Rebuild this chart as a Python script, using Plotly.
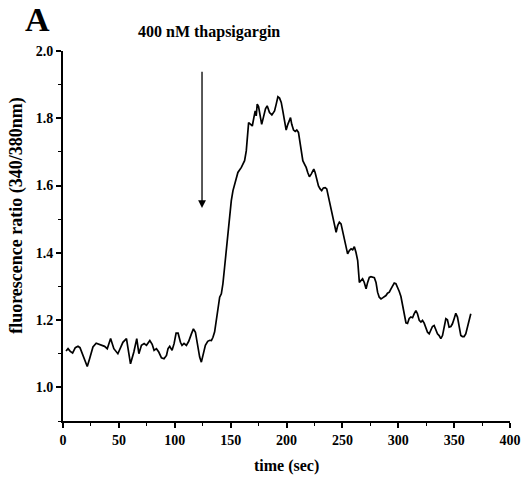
import plotly.graph_objects as go

time_sec = [2.7, 4.5, 6.5, 8.6, 11.0, 13.4, 15.2, 17.9, 21.7, 23.8, 26.8, 29.7, 32.8, 37.2, 39.6,
            42.6, 45.5, 49.1, 53.6, 56.8, 60.4, 63.4, 66.0, 67.9, 70.2, 72.6, 74.7, 77.7, 79.8,
            81.5, 83.6, 85.7, 88.1, 90.4, 92.6, 94.0, 95.5, 97.6, 99.4, 101.2, 103.0, 105.1,
            106.5, 108.3, 110.4, 112.5, 114.9, 116.7, 118.5, 120.3, 122.3, 123.8, 125.3, 127.4,
            129.5, 131.3, 132.8, 134.2, 135.7, 137.2, 138.7, 140.2, 141.7, 143.1, 144.6, 146.2,
            147.6, 149.1, 150.6, 152.1, 153.6, 155.1, 156.5, 159.6, 161.0, 162.5, 164.0, 164.9,
            166.1, 167.9, 169.4, 170.8, 172.0, 172.9, 173.8, 175.0, 176.8, 177.8, 179.5, 181.2,
            182.7, 184.8, 186.9, 189.3, 190.8, 192.3, 193.8, 195.3, 196.7, 198.2, 199.7, 201.2,
            202.7, 203.6, 204.7, 206.3, 207.8, 209.2, 210.7, 212.5, 214.6, 216.1, 217.6, 219.0,
            220.5, 222.1, 224.4, 225.6, 227.1, 228.6, 230.1, 231.5, 233.0, 234.6, 236.0, 237.5,
            239.3, 240.8, 242.5, 244.4, 245.8, 247.3, 248.8, 250.3, 251.8, 253.3, 254.7, 256.3,
            257.8, 259.2, 260.7, 262.2, 263.7, 265.2, 266.7, 268.1, 269.6, 271.2, 272.6, 274.1,
            275.6, 277.1, 278.6, 280.1, 281.5, 283.0, 284.6, 286.0, 287.5, 289.0, 290.4, 292.0,
            293.5, 294.9, 296.4, 297.9, 299.4, 300.9, 302.4, 303.8, 305.4, 306.9, 308.3, 309.8,
            311.3, 312.8, 314.3, 315.8, 317.2, 318.8, 320.3, 321.7, 323.2, 324.7, 326.2, 327.7,
            329.2, 330.6, 332.1, 333.7, 335.1, 336.6, 338.1, 339.6, 341.1, 342.6, 344.0, 345.5,
            347.1, 348.5, 350.0, 351.5, 353.0, 354.5, 356.0, 357.4, 358.9, 360.4, 361.8, 363.3,
            364.9]

ratio = [1.108, 1.115, 1.107, 1.102, 1.118, 1.122, 1.118, 1.095, 1.062, 1.085, 1.120, 1.131, 1.128,
         1.122, 1.115, 1.145, 1.115, 1.100, 1.134, 1.145, 1.070, 1.105, 1.145, 1.100, 1.125, 1.130,
         1.125, 1.139, 1.128, 1.110, 1.115, 1.105, 1.088, 1.085, 1.095, 1.115, 1.122, 1.110, 1.130,
         1.161, 1.161, 1.134, 1.125, 1.131, 1.125, 1.137, 1.159, 1.174, 1.164, 1.128, 1.090, 1.075,
         1.095, 1.125, 1.137, 1.140, 1.139, 1.149, 1.165, 1.199, 1.238, 1.268, 1.278, 1.308, 1.357,
         1.407, 1.466, 1.515, 1.555, 1.585, 1.604, 1.624, 1.639, 1.654, 1.662, 1.674, 1.703, 1.753,
         1.787, 1.782, 1.777, 1.802, 1.822, 1.807, 1.842, 1.835, 1.802, 1.782, 1.805, 1.828, 1.837,
         1.817, 1.810, 1.822, 1.842, 1.864, 1.860, 1.847, 1.822, 1.792, 1.765, 1.782, 1.797, 1.802,
         1.782, 1.765, 1.761, 1.765, 1.758, 1.713, 1.674, 1.664, 1.654, 1.639, 1.626, 1.634, 1.649,
         1.639, 1.614, 1.599, 1.590, 1.585, 1.593, 1.594, 1.590, 1.565, 1.535, 1.510, 1.486, 1.461,
         1.481, 1.491, 1.486, 1.461, 1.441, 1.412, 1.397, 1.407, 1.412, 1.409, 1.418, 1.401, 1.377,
         1.312, 1.318, 1.323, 1.312, 1.293, 1.312, 1.327, 1.329, 1.327, 1.326, 1.312, 1.283, 1.268,
         1.263, 1.266, 1.270, 1.273, 1.280, 1.283, 1.293, 1.303, 1.310, 1.308, 1.298, 1.285, 1.270,
         1.248, 1.219, 1.192, 1.190, 1.205, 1.209, 1.207, 1.219, 1.228, 1.219, 1.199, 1.194, 1.199,
         1.191, 1.179, 1.164, 1.159, 1.169, 1.181, 1.184, 1.169, 1.159, 1.154, 1.145, 1.154, 1.179,
         1.204, 1.201, 1.179, 1.181, 1.189, 1.204, 1.220, 1.209, 1.184, 1.154, 1.151, 1.151, 1.159,
         1.179, 1.199, 1.219]

x_ticks = [0, 50, 100, 150, 200, 250, 300, 350, 400]
y_ticks = [1.0, 1.2, 1.4, 1.6, 1.8, 2.0]
y_tick_labels = ["1.0", "1.2", "1.4", "1.6", "1.8", "2.0"]

arrow_time = 124.4
arrow_top = 1.943
arrow_bottom = 1.533

SERIF = "Liberation Serif, Times New Roman, serif"

fig = go.Figure()
fig.add_trace(go.Scatter(x=time_sec, y=ratio, mode="lines",
                         line=dict(color="black", width=1.7), showlegend=False,
                         hoverinfo="skip"))

fig.add_annotation(x=arrow_time, y=arrow_bottom, ax=arrow_time, ay=arrow_top,
                   xref="x", yref="y", axref="x", ayref="y",
                   showarrow=True, arrowhead=2, arrowsize=1.2, arrowwidth=1.3,
                   arrowcolor="black", text="")

fig.add_annotation(text="400 nM thapsigargin", x=0.327, y=1.051, xref="paper", yref="paper",
                   showarrow=False, xanchor="center", yanchor="middle",
                   font=dict(family=SERIF, size=16, color="black", weight="bold"))
fig.add_annotation(text="A", x=-0.056, y=1.084, xref="paper", yref="paper",
                   showarrow=False, xanchor="center", yanchor="middle",
                   font=dict(family=SERIF, size=34, color="black", weight="bold"))
fig.add_annotation(text="time (sec)", x=0.501, y=-0.122, xref="paper", yref="paper",
                   showarrow=False, xanchor="center", yanchor="middle",
                   font=dict(family=SERIF, size=16, color="black", weight="bold"))
fig.add_annotation(text="fluorescence ratio (340/380nm)", x=-0.103, y=0.557,
                   xref="paper", yref="paper", textangle=-90,
                   showarrow=False, xanchor="center", yanchor="middle",
                   font=dict(family=SERIF, size=18, color="black", weight="bold"))

fig.update_layout(
    width=523, height=479,
    margin=dict(l=55, r=21, t=43, b=66, autoexpand=False),
    paper_bgcolor="white", plot_bgcolor="white",
    xaxis=dict(range=[0, 400], tickvals=x_ticks, ticks="outside", ticklen=5, tickwidth=1.5,
               tickcolor="black", showline=True, linecolor="black", linewidth=1.8,
               showgrid=False, zeroline=False,
               minor=dict(dtick=25, tick0=0, ticks="outside", ticklen=3, tickwidth=1.3,
                          tickcolor="black", showgrid=False),
               tickfont=dict(family=SERIF, size=14, color="black", weight="bold")),
    yaxis=dict(range=[0.9, 2.0], tickvals=y_ticks, ticktext=y_tick_labels, ticks="outside",
               ticklen=5, tickwidth=1.5, tickcolor="black", showline=True, linecolor="black",
               linewidth=1.8, showgrid=False, zeroline=False,
               minor=dict(dtick=0.1, tick0=0.9, ticks="outside", ticklen=3, tickwidth=1.3,
                          tickcolor="black", showgrid=False),
               tickfont=dict(family=SERIF, size=14, color="black", weight="bold")),
)

fig.write_html("out.html")
